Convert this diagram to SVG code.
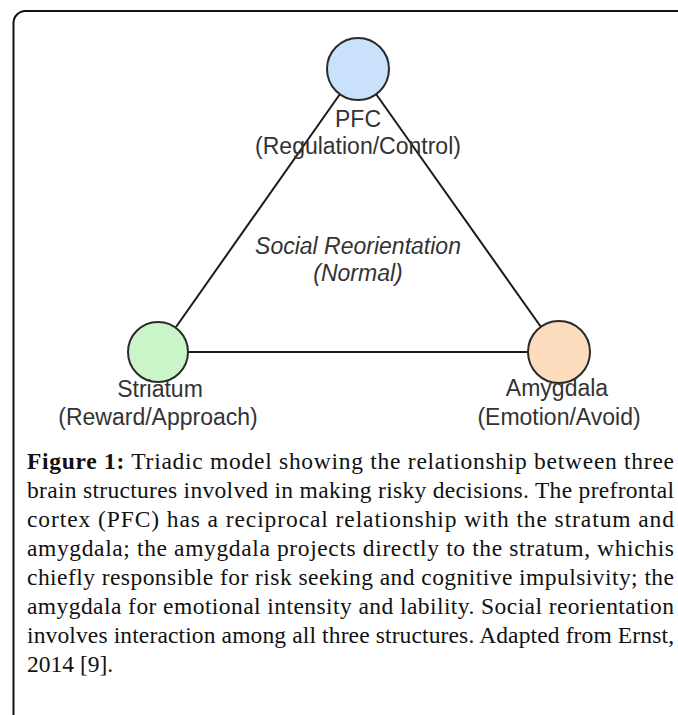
<svg xmlns="http://www.w3.org/2000/svg" width="678" height="715" viewBox="0 0 678 715">
  <style>
    .frame { fill: none; stroke: #111; stroke-width: 2; }
    .edge { stroke: #1a1a1a; stroke-width: 2; fill: none; }
    .node { stroke: #2a2a2a; stroke-width: 2; }
    .lbl { font-family: "Liberation Sans", Arial, sans-serif; font-size: 23px; fill: #333; text-anchor: middle; }
    .it { font-style: italic; }
    .cap { font-family: "Liberation Serif", "Times New Roman", serif; font-size: 23.5px; fill: #111; }
  </style>
  <rect width="678" height="715" fill="#fff"/>
  <path class="frame" d="M13.5,715 V23 A12,12 0 0 1 25.5,11 H678"/>

  <g id="connectors">
    <line class="edge" x1="340" y1="94" x2="176" y2="327"/>
    <line class="edge" x1="376" y1="94" x2="541" y2="327"/>
    <line class="edge" x1="189" y1="352" x2="528" y2="352"/>
  </g>

  <g id="pfc">
    <circle class="node" cx="358" cy="69" r="31" fill="#c9e1fa"/>
    <text class="lbl" x="358" y="127">PFC</text>
    <text class="lbl" x="358" y="154">(Regulation/Control)</text>
  </g>

  <g id="center-label">
    <text class="lbl it" x="358" y="254">Social Reorientation</text>
    <text class="lbl it" x="358" y="281">(Normal)</text>
  </g>

  <g id="striatum">
    <circle class="node" cx="158" cy="352" r="30" fill="#c9f5c9"/>
    <text class="lbl" x="160" y="397">Striatum</text>
    <text class="lbl" x="158" y="425">(Reward/Approach)</text>
  </g>

  <g id="amygdala">
    <circle class="node" cx="559" cy="352" r="31" fill="#fcdcbd"/>
    <text class="lbl" x="557" y="396">Amygdala</text>
    <text class="lbl" x="559" y="425">(Emotion/Avoid)</text>
  </g>

  <g id="caption">
    <text class="cap" x="27" y="469" textLength="647" lengthAdjust="spacing"><tspan font-weight="bold">Figure 1:</tspan> Triadic model showing the relationship between three</text>
    <text class="cap" x="27" y="498" textLength="647" lengthAdjust="spacing">brain structures involved in making risky decisions. The prefrontal</text>
    <text class="cap" x="27" y="527" textLength="647" lengthAdjust="spacing">cortex (PFC) has a reciprocal relationship with the stratum and</text>
    <text class="cap" x="27" y="556" textLength="647" lengthAdjust="spacing">amygdala; the amygdala projects directly to the stratum, whichis</text>
    <text class="cap" x="27" y="585" textLength="647" lengthAdjust="spacing">chiefly responsible for risk seeking and cognitive impulsivity; the</text>
    <text class="cap" x="27" y="614" textLength="647" lengthAdjust="spacing">amygdala for emotional intensity and lability. Social reorientation</text>
    <text class="cap" x="27" y="643" textLength="647" lengthAdjust="spacing">involves interaction among all three structures. Adapted from Ernst,</text>
    <text class="cap" x="27" y="672">2014 [9].</text>
  </g>
</svg>
